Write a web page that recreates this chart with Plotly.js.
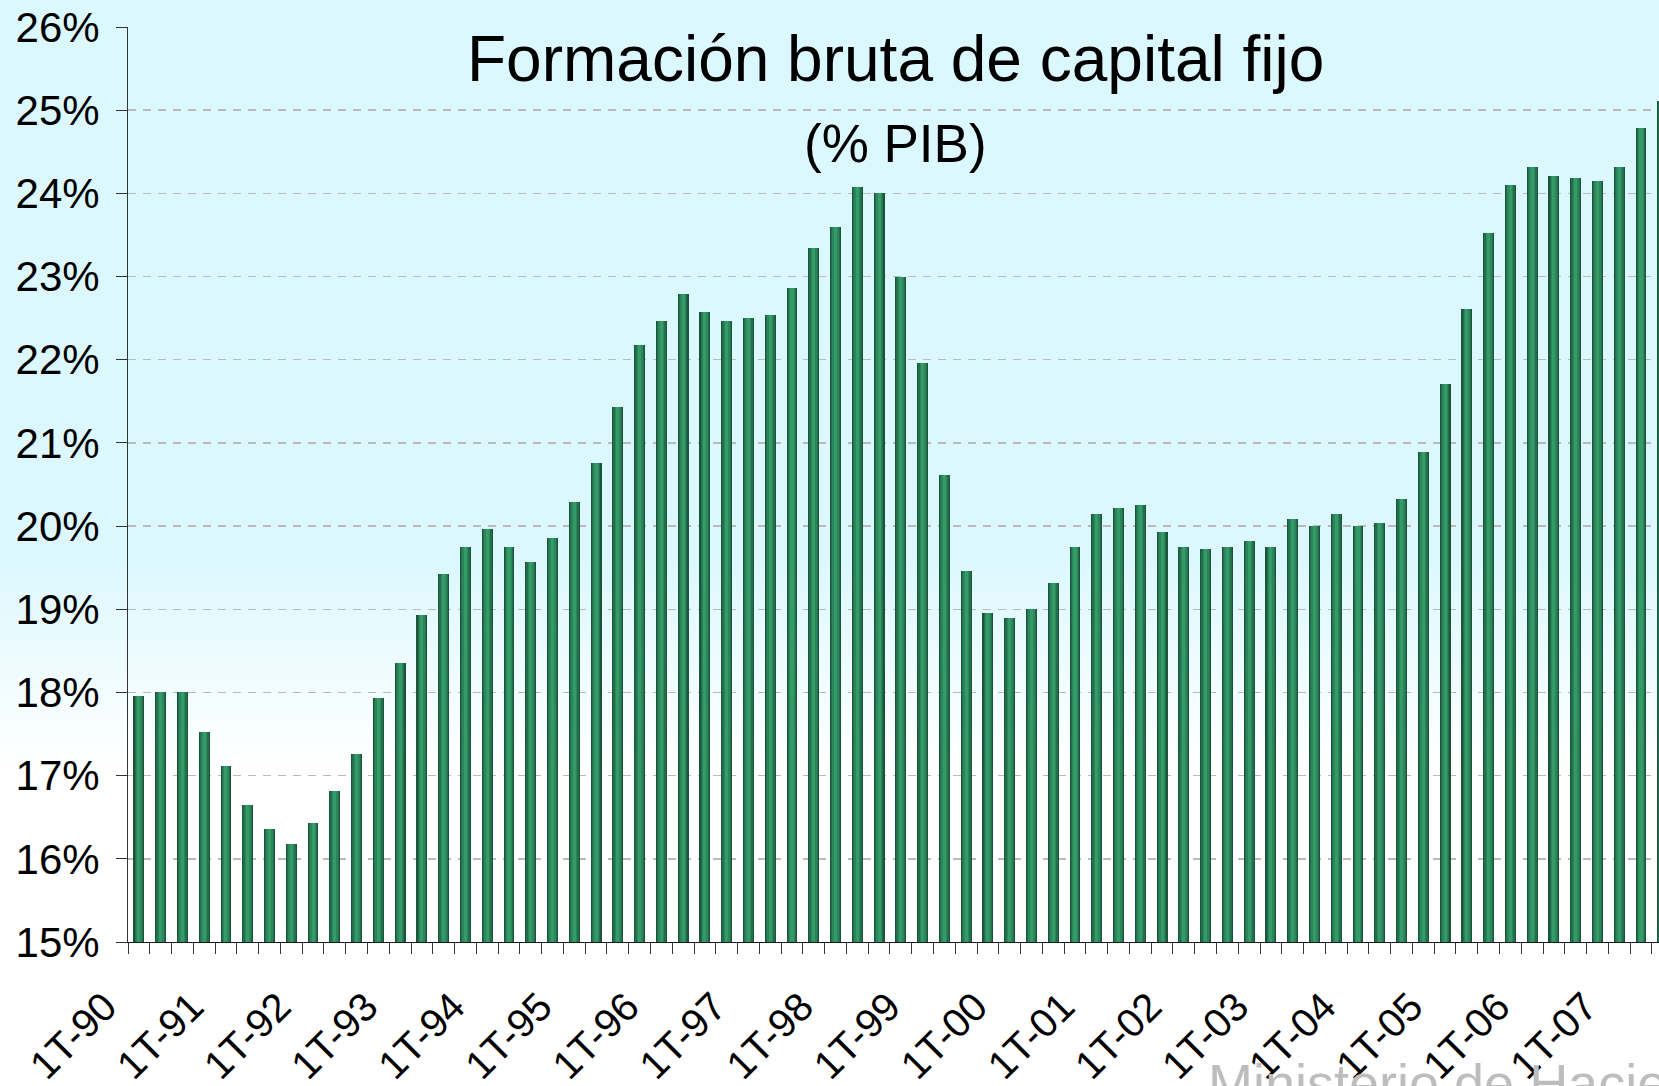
<!DOCTYPE html>
<html>
<head>
<meta charset="utf-8">
<script src="https://cdn.plot.ly/plotly-3.0.1.min.js"></script>
<style>
  html, body { margin: 0; padding: 0; overflow: hidden; background: #ffffff; }
  #chart {
    width: 1659px; height: 1086px;
    background: linear-gradient(to bottom, #dbf8fe 0px, #dcf8fe 560px, #f4fdff 700px, #ffffff 770px, #ffffff 1086px);
  }
</style>
</head>
<body>
<div id="chart"></div>
<script>
// ---- Data ----
const quarters = [
  "1T-90","2T-90","3T-90","4T-90",
  "1T-91","2T-91","3T-91","4T-91",
  "1T-92","2T-92","3T-92","4T-92",
  "1T-93","2T-93","3T-93","4T-93",
  "1T-94","2T-94","3T-94","4T-94",
  "1T-95","2T-95","3T-95","4T-95",
  "1T-96","2T-96","3T-96","4T-96",
  "1T-97","2T-97","3T-97","4T-97",
  "1T-98","2T-98","3T-98","4T-98",
  "1T-99","2T-99","3T-99","4T-99",
  "1T-00","2T-00","3T-00","4T-00",
  "1T-01","2T-01","3T-01","4T-01",
  "1T-02","2T-02","3T-02","4T-02",
  "1T-03","2T-03","3T-03","4T-03",
  "1T-04","2T-04","3T-04","4T-04",
  "1T-05","2T-05","3T-05","4T-05",
  "1T-06","2T-06","3T-06","4T-06",
  "1T-07","2T-07","3T-07"
];

const fbcfPIB = [
  17.96, 18.00, 18.00, 17.52,
  17.12, 16.65, 16.36, 16.18,
  16.43, 16.82, 17.26, 17.93,
  18.35, 18.93, 19.43, 19.75,
  19.97, 19.75, 19.57, 19.86,
  20.29, 20.76, 21.43, 22.18,
  22.47, 22.79, 22.57, 22.47,
  22.50, 22.54, 22.86, 23.34,
  23.60, 24.08, 24.00, 23.00,
  21.96, 20.61, 19.46, 18.96,
  18.89, 19.00, 19.32, 19.75,
  20.15, 20.22, 20.25, 19.93,
  19.75, 19.72, 19.75, 19.82,
  19.75, 20.08, 20.00, 20.15,
  20.00, 20.04, 20.32, 20.89,
  21.71, 22.61, 23.52, 24.10,
  24.32, 24.21, 24.19, 24.15,
  24.32, 24.78, 25.11
];

const tickLabels = ["1T-90","1T-91","1T-92","1T-93","1T-94","1T-95","1T-96","1T-97","1T-98",
                    "1T-99","1T-00","1T-01","1T-02","1T-03","1T-04","1T-05","1T-06","1T-07"];

const titleText = "Formación bruta de capital fijo";
const subtitleText = "(% PIB)";
const watermarkText = "Ministerio de Hacienda";

// ---- Build ----
const xIdx = quarters.map((q, i) => i);
const tickVals = tickLabels.map(l => quarters.indexOf(l));

const W = 1659, H = 1086;
const M = {l: 128, r: 0, t: 27, b: 144};
const pw = W - M.l - M.r, ph = H - M.t - M.b;
const px2x = p => (p - M.l) / pw;
const px2y = p => (H - M.b - p) / ph;

// cylinder-like shading with stacked overlay layers
const layers = [
  {w: 0.50, c: "#19553a"},
  {w: 0.40, c: "#236f4b"},
  {w: 0.28, c: "#2b8659"},
  {w: 0.14, c: "#349a67"}
];
const traces = layers.map(L => ({
  type: "bar",
  x: xIdx,
  y: fbcfPIB,
  width: L.w,
  marker: {color: L.c, line: {width: 0}},
  hoverinfo: "skip",
  showlegend: false
}));

const fontFam = '"Liberation Sans", Arial, Helvetica, sans-serif';

const layout = {
  width: W, height: H,
  margin: {l: M.l, r: M.r, t: M.t, b: M.b, pad: 0},
  paper_bgcolor: "rgba(0,0,0,0)",
  plot_bgcolor: "rgba(0,0,0,0)",
  barmode: "overlay",
  bargap: 0,
  showlegend: false,
  font: {family: fontFam, color: "#000"},
  xaxis: {
    type: "linear",
    range: [-0.5, (W - M.l) / 21.77 - 0.5],
    tickmode: "array",
    tickvals: tickVals,
    ticktext: tickLabels,
    tickangle: -45,
    ticks: "outside",
    ticklen: 0,
    tickfont: {size: 40, color: "#000"},
    ticklabelshift: -34,
    ticklabelstandoff: 24,
    showline: true, linecolor: "#1a1a1a", linewidth: 1,
    showgrid: false, zeroline: false,
    minor: {tickmode: "linear", tick0: -0.5, dtick: 1, ticks: "outside", ticklen: 11,
            tickcolor: "#333333", tickwidth: 1, showgrid: false}
  },
  yaxis: {
    range: [15, 26],
    tick0: 15, dtick: 1,
    ticksuffix: "%",
    ticks: "outside", ticklen: 11, tickcolor: "#333333", tickwidth: 1,
    showline: true, linecolor: "#333333", linewidth: 1,
    showgrid: true, gridcolor: "#bababa", gridwidth: 1.5, griddash: "8px,7px",
    zeroline: false,
    tickfont: {size: 42, color: "#000"},
    ticklabelstandoff: 8
  },
  annotations: [
    {text: titleText, xref: "paper", yref: "paper", x: px2x(895), y: px2y(59),
     xanchor: "center", yanchor: "middle", showarrow: false,
     font: {size: 64, color: "#000", family: fontFam}},
    {text: subtitleText, xref: "paper", yref: "paper", x: px2x(895), y: px2y(144),
     xanchor: "center", yanchor: "middle", showarrow: false,
     font: {size: 53, color: "#000", family: fontFam}},
    {text: watermarkText, xref: "paper", yref: "paper", x: px2x(1206), y: px2y(1083),
     xanchor: "left", yanchor: "middle", showarrow: false,
     font: {size: 54, color: "#bdbdbd", family: fontFam}}
  ]
};

Plotly.newPlot("chart", traces, layout, {displayModeBar: false, staticPlot: true});
</script>
</body>
</html>
